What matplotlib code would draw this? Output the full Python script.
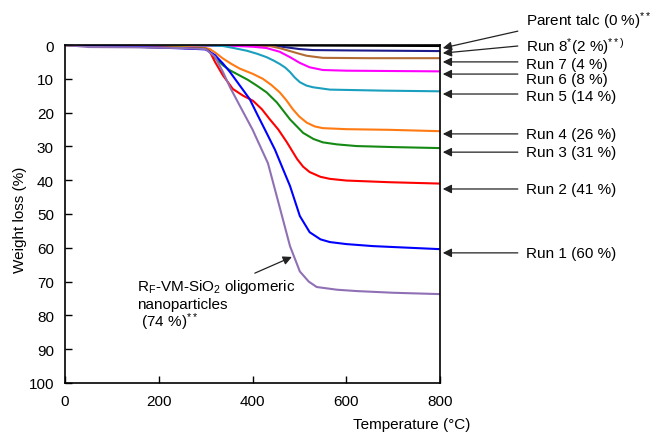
import matplotlib
matplotlib.use("Agg")
import matplotlib.pyplot as plt

plt.rcParams['font.family'] = ['Liberation Sans', 'DejaVu Sans']
plt.rcParams['mathtext.fontset'] = 'custom'
plt.rcParams['mathtext.rm'] = 'Liberation Sans'
plt.rcParams['mathtext.it'] = 'Liberation Sans:italic'

# TGA curves: temperature (degC) / weight loss (%)
t_talc = [0, 400, 600, 800]
w_talc = [0, 0.1, 0.2, 0.3]

t_run8 = [0, 440, 473, 500, 529, 600, 700, 800]
w_run8 = [0, 0.1, 0.7, 1.2, 1.5, 1.6, 1.7, 1.8]

t_run7 = [0, 380, 437, 460, 480, 500, 516, 550, 650, 800]
w_run7 = [0, 0.1, 0.3, 1.0, 1.8, 2.6, 3.2, 3.8, 3.9, 3.9]

t_run6 = [0, 350, 400, 430, 458, 480, 501, 522, 550, 600, 800]
w_run6 = [0, 0.2, 0.5, 0.9, 2.0, 3.6, 5.3, 6.6, 7.4, 7.6, 7.8]

t_run5 = [0, 300, 337, 360, 388, 410, 430, 445, 458, 470, 480, 490, 501, 515, 529, 565, 678, 800]
w_run5 = [0, 0.1, 0.3, 0.9, 1.7, 2.6, 3.6, 4.6, 5.6, 6.7, 8.0, 9.6, 11.0, 12.0, 12.5, 13.2, 13.5, 13.7]

t_run4 = [0, 100, 250, 300, 309, 320, 337, 355, 373, 400, 422, 440, 458, 472, 486, 500, 516, 533, 550, 600, 693, 800]
w_run4 = [0, 0.2, 0.6, 0.9, 1.2, 2.2, 4.0, 5.6, 7.0, 8.5, 10.0, 11.8, 14.0, 16.3, 19.0, 21.2, 23.0, 24.1, 24.6, 24.9, 25.1, 25.5]

t_run3 = [0, 100, 250, 300, 309, 320, 337, 352, 367, 390, 409, 430, 452, 466, 480, 494, 508, 530, 550, 580, 622, 700, 800]
w_run3 = [0, 0.4, 0.8, 1.1, 2.0, 3.8, 6.0, 7.5, 8.6, 10.3, 12.0, 14.0, 17.0, 19.5, 22.0, 24.0, 26.0, 27.8, 28.8, 29.4, 29.9, 30.2, 30.5]

t_run2 = [0, 100, 250, 300, 309, 320, 337, 358, 380, 401, 420, 437, 455, 473, 495, 508, 522, 545, 565, 600, 693, 800]
w_run2 = [0, 0.3, 0.9, 1.2, 2.0, 5.0, 9.0, 13.0, 15.0, 16.5, 19.0, 22.0, 25.0, 28.7, 33.7, 36.0, 37.6, 39.0, 39.6, 40.1, 40.6, 41.0]

t_run1 = [0, 100, 250, 300, 320, 337, 352, 373, 394, 410, 430, 448, 465, 480, 501, 522, 545, 565, 600, 657, 800]
w_run1 = [0, 0.3, 1.0, 1.3, 3.0, 5.5, 8.0, 12.0, 16.0, 20.5, 26.0, 31.0, 36.7, 41.7, 50.6, 55.4, 57.5, 58.3, 58.9, 59.5, 60.4]

t_rf = [0, 50, 150, 250, 300, 320, 337, 352, 373, 400, 433, 458, 480, 501, 520, 537, 580, 622, 700, 800]
w_rf = [0, 0.6, 0.7, 0.9, 1.2, 3.5, 8.0, 12.5, 18.0, 25.0, 35.0, 48.0, 59.5, 67.0, 70.0, 71.6, 72.4, 72.8, 73.3, 73.7]

series = [
    (t_talc, w_talc, 'black'),
    (t_run8, w_run8, '#1c1c8c'),
    (t_run7, w_run7, '#b36b35'),
    (t_run6, w_run6, '#ff00ff'),
    (t_run5, w_run5, '#1a9fbf'),
    (t_run4, w_run4, '#ff7a12'),
    (t_run3, w_run3, '#148a14'),
    (t_run2, w_run2, '#ff0000'),
    (t_run1, w_run1, '#0000ff'),
    (t_rf, w_rf, '#9070b5'),
]

# labels on the right: text, text y, arrow tail y, arrow tip y
run_labels = ['Parent talc (0 %)$^{**}$', 'Run 8$^{*}$(2 %)$^{**)}$', 'Run 7 (4 %)',
              'Run 6 (8 %)', 'Run 5 (14 %)', 'Run 4 (26 %)', 'Run 3 (31 %)',
              'Run 2 (41 %)', 'Run 1 (60 %)']
label_y = [-7.2, 0.1, 5.5, 10.0, 15.1, 26.3, 31.7, 42.6, 61.5]
tail_y = [-4.1, 0.3, 5.0, 8.6, 14.5, 26.3, 31.7, 42.6, 61.5]
tip_y = [0.9, 2.4, 5.0, 8.6, 14.5, 26.3, 31.7, 42.6, 61.5]

fig = plt.figure(figsize=(6.54, 4.35), dpi=100)
ax = fig.add_axes([65 / 654, 51 / 435, 375 / 654, 338 / 435])

for t, w, c in series:
    ax.plot(t, w, color=c, lw=1.5)

ax.set_xlim(0, 800)
ax.set_ylim(100, 0)
ax.set_xticks([0, 200, 400, 600, 800])
ax.set_yticks(range(0, 101, 10))
ax.tick_params(direction='in', length=5, width=1, labelsize=11, pad=8)
for s in ax.spines.values():
    s.set_linewidth(1.2)

arrow = dict(arrowstyle='-|>', color='#222222', lw=0.9, mutation_scale=13,
             shrinkA=0, shrinkB=0)
for lab, ly, ty, hy in zip(run_labels, label_y, tail_y, tip_y):
    ax.annotate('', xy=(806, hy), xytext=(966, ty), arrowprops=arrow,
                annotation_clip=False)
    ax.text(983, ly, lab, fontsize=11, ha='left', va='center', clip_on=False)

ax.annotate('', xy=(484, 62.7), xytext=(405, 67.5), arrowprops=arrow)
ax.text(154, 71.3, 'R$_\\mathrm{F}$-VM-SiO$_2$ oligomeric', fontsize=11, va='center')
ax.text(154, 76.6, 'nanoparticles', fontsize=11, va='center')
ax.text(154, 81.7, ' (74 %)$^{**}$', fontsize=11, va='center')

fig.text(412 / 654, 1 - 425 / 435, 'Temperature (\u00b0C)', fontsize=11,
         ha='center', va='center')
fig.text(20 / 654, 1 - 220 / 435, 'Weight loss (%)', fontsize=11,
         ha='center', va='center', rotation=90)

fig.savefig('out.png', dpi=100)
